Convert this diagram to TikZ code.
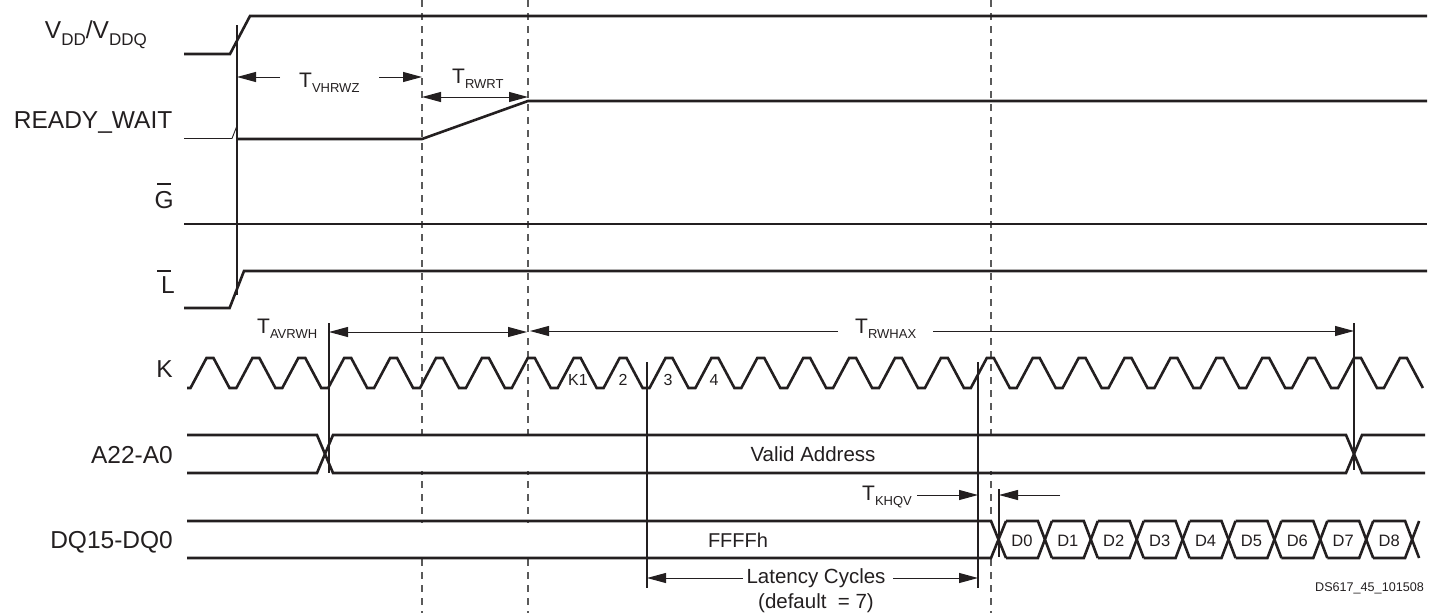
\documentclass[tikz,border=0pt]{standalone}
\usepackage{fontspec}
\setmainfont{Liberation Sans}
\usetikzlibrary{arrows.meta}
\definecolor{ink}{HTML}{231F20}
\definecolor{dashgray}{HTML}{5A5A5A}
\newcommand\Tlab[1]{{\fontsize{21}{21}\selectfont T}\raisebox{-5pt}{\fontsize{13}{13}\selectfont #1}}
\newcommand\Vsub[1]{\raisebox{-6.5pt}{\fontsize{17}{17}\selectfont #1}}
\tikzset{
  sig/.style={line width=2.6pt, draw=ink},
  thinsig/.style={line width=0.9pt, draw=ink},
  vline/.style={line width=1.1pt, draw=ink},
  dsh/.style={line width=1.2pt, draw=dashgray, dash pattern=on 7pt off 6pt},
  dim/.style={line width=1pt, draw=ink},
  onetip/.style={-{Triangle[length=19pt,width=10pt]}},
  twotip/.style={{Triangle[length=19pt,width=10pt]}-{Triangle[length=19pt,width=10pt]}},
  lbl/.style={inner sep=0pt, anchor=base east, text=ink, font=\fontsize{24.5}{28}\selectfont},
  tlbl/.style={inner sep=0pt, anchor=base west, text=ink},
  mid/.style={inner sep=0pt, anchor=base, text=ink, font=\fontsize{20.5}{24}\selectfont},
  dlbl/.style={inner sep=0pt, anchor=base, text=ink, font=\fontsize{16.5}{18}\selectfont},
  klbl/.style={inner sep=0pt, anchor=base, text=ink, font=\fontsize{16}{18}\selectfont},
}
\begin{document}
\begin{tikzpicture}[x=1pt,y=-1pt]
\useasboundingbox (0,0) rectangle (1435,613);

% dashed reference lines
\foreach \x/\n in {422/da,528/db,991/dc}{
  \coordinate (\n t) at (\x,0);
  \coordinate (\n b) at (\x,613);
  \draw[dsh] (\n t) -- (\n b);
}
% bus interiors hide dashed lines
\fill[white] (186,437) rectangle (1426,471);
\fill[white] (186,523) rectangle (1421,556);

% solid reference lines
\coordinate (s1t) at (237,25);   \coordinate (s1b) at (237,295);
\coordinate (s2t) at (329,323);  \coordinate (s2b) at (329,473);
\coordinate (s3t) at (647,362);  \coordinate (s3b) at (647,588);
\coordinate (s4t) at (978,362);  \coordinate (s4b) at (978,588);
\coordinate (s5t) at (999,489);  \coordinate (s5b) at (999,557);
\coordinate (s6t) at (1354,323); \coordinate (s6b) at (1354,470);
\foreach \n in {s1,s2,s3,s4,s5,s6} \draw[vline] (\n t) -- (\n b);

% VDD/VDDQ
\draw[sig] (184,54) -- (230,54) -- (250,16) -- (1427,16);
% READY_WAIT
\draw[thinsig] (184,138.5) -- (232,138.5) -- (236.5,127);
\draw[sig] (237,139) -- (422,139) -- (528,101) -- (1427,101);
% G
\draw[sig] (184,224) -- (1427,224);
% L
\draw[sig] (184,308) -- (229.6,308) -- (244,271) -- (1427,271);
% K clock
\draw[sig] (187,388) \foreach \n in {0,...,26}{
  -- ({210+45.9*\n-19.5},388) -- ({210+45.9*\n-3.5},358)
  -- ({210+45.9*\n+3.5},358) -- ({210+45.9*\n+19.5},388)};
% A22-A0
\draw[sig] (187,435) -- (317,435) -- (333,473) -- (1346,473) -- (1362,435) -- (1425,435);
\draw[sig] (187,473) -- (317,473) -- (333,435) -- (1346,435) -- (1362,473) -- (1425,473);
% DQ15-DQ0
\draw[sig] (187,521) -- (991,521) -- (1006,558);
\draw[sig] (187,558) -- (991,558) -- (1006,521);
\foreach \k in {0,...,8}{
  \draw[sig] ({999+45.9*\k+7},521) -- ({999+45.9*(\k+1)-7},521) -- ({999+45.9*(\k+1)+7},558);
  \draw[sig] ({999+45.9*\k+7},558) -- ({999+45.9*(\k+1)-7},558) -- ({999+45.9*(\k+1)+7},521);
}

% signal labels
\node[lbl] (lvdd) at (147,38.5) {V\Vsub{DD}/V\Vsub{DDQ}};
\node[lbl] (lrw) at (172.5,128.3) {READY\_WAIT};
\node[lbl] (lg) at (174,208) {G};
\draw[line width=1.6pt, ink] (157,184) -- (171,184);
\node[lbl] (ll) at (175,293) {L};
\draw[line width=1.6pt, ink] (157,271) -- (171,271);
\node[lbl] (lk) at (173,377) {K};
\node[lbl] (la) at (173,463) {A22-A0};
\node[lbl] (ldq) at (173,548) {DQ15-DQ0};

% timing labels
\node[tlbl] (tv) at (299,87) {\Tlab{VHRWZ}};
\node[tlbl] (tr) at (452,83) {\Tlab{RWRT}};
\node[tlbl] (ta) at (257,333) {\Tlab{AVRWH}};
\node[tlbl] (th) at (855,333) {\Tlab{RWHAX}};
\node[tlbl] (tk) at (862,500) {\Tlab{KHQV}};

% dimension arrows
\coordinate (v1a) at (280,77);  \coordinate (v1b) at (237,77);
\coordinate (v2a) at (379,77);  \coordinate (v2b) at (422,77);
\draw[dim,onetip] (v1a) -- (v1b);
\draw[dim,onetip] (v2a) -- (v2b);
\coordinate (r1) at (422,97); \coordinate (r2) at (528,97);
\draw[dim,twotip] (r1) -- (r2);
\coordinate (a1) at (329,332); \coordinate (a2) at (527,332);
\draw[dim,twotip] (a1) -- (a2);
\coordinate (h1a) at (838,331); \coordinate (h1b) at (530,331);
\coordinate (h2a) at (933,331); \coordinate (h2b) at (1354,331);
\draw[dim,onetip] (h1a) -- (h1b);
\draw[dim,onetip] (h2a) -- (h2b);
\coordinate (k1a) at (917,495); \coordinate (k1b) at (978,495);
\coordinate (k2a) at (1060,495); \coordinate (k2b) at (999,495);
\draw[dim,onetip] (k1a) -- (k1b);
\draw[dim,onetip] (k2a) -- (k2b);
\coordinate (c1a) at (743,578); \coordinate (c1b) at (647,578);
\coordinate (c2a) at (893,578); \coordinate (c2b) at (978,578);
\draw[dim,onetip] (c1a) -- (c1b);
\draw[dim,onetip] (c2a) -- (c2b);

% clock cycle numbers
\node[klbl] (kk1) at (578,385.5) {K1};
\node[klbl] (kk2) at (623,385.5) {2};
\node[klbl] (kk3) at (668,385.5) {3};
\node[klbl] (kk4) at (714,385.5) {4};

% bus contents
\node[mid] (va) at (813,461) {Valid Address};
\node[inner sep=0pt, anchor=base, text=ink, font=\fontsize{20}{24}\selectfont] (ff) at (738,547) {FFFFh};
\foreach \k in {0,...,8}{
  \node[dlbl] (d\k) at ({999+45.9*\k+22.95},546) {D\k};
}
\node[mid] (lat) at (816,583.5) {Latency Cycles};
\node[mid] (def) at (816,608) {(default\ \ = 7)};
\node[inner sep=0pt, anchor=base east, text=ink, font=\fontsize{12.6}{14}\selectfont] (ds) at (1424,591.5) {DS617\_45\_101508};
\end{tikzpicture}
\end{document}
